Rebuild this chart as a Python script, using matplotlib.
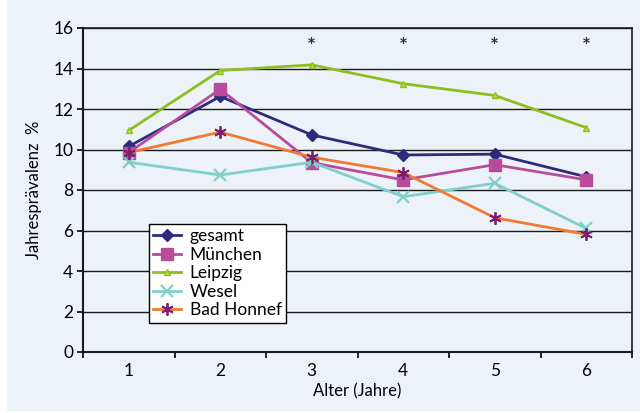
import numpy as np
import matplotlib
matplotlib.use("Agg")
import matplotlib.pyplot as plt
from matplotlib.patches import Rectangle

plt.rcParams['font.family'] = ['Lato', 'DejaVu Sans']

# data
ages = ['1', '2', '3', '4', '5', '6']
gesamt = [10.15, 12.62, 10.72, 9.73, 9.77, 8.65]
muenchen = [9.85, 12.98, 9.35, 8.5, 9.25, 8.5]
leipzig = [10.94, 13.9, 14.18, 13.25, 12.67, 11.08]
wesel = [9.37, 8.74, 9.37, 7.67, 8.33, 6.1]
bad_honnef = [9.85, 10.86, 9.62, 8.86, 6.63, 5.81]
signif_ages = ['3', '4', '5', '6']
signif_y = 15.05

bg = '#edf2f9'

fig = plt.figure(figsize=(6.4, 4.13), dpi=100)
fig.patch.set_facecolor('white')
fig.patches.append(Rectangle((7 / 640, 2 / 413), 1 - 7 / 640, 1 - 2 / 413,
                             transform=fig.transFigure, facecolor=bg,
                             edgecolor='none', zorder=-10))
ax = fig.add_axes([83 / 640, 1 - 352 / 413, 549 / 640, 324 / 413])
ax.set_facecolor(bg)

x = np.arange(len(ages))
ax.plot(x, gesamt, color='#2f2a7c', lw=2.0, marker='D', ms=6.5, label='gesamt')
ax.plot(x, muenchen, color='#b94b9b', lw=2.0, marker='s', ms=8, label='München')
ax.plot(x, leipzig, color='#8cbf20', lw=2.0, marker='^', ms=5,
        mfc='#c8d830', mec='#8cbf20', label='Leipzig')
ax.plot(x, wesel, color='#7fcfca', lw=2.0, marker='x', ms=8, mew=1.6, label='Wesel')
ax.plot(x, bad_honnef, color='#f07a32', lw=2.0, marker=(6, 2, 0), ms=9, mew=1.3,
        mec='#7a1e6e', label='Bad Honnef')

for a in signif_ages:
    ax.text(ages.index(a), signif_y, '*', ha='center', va='center', fontsize=15,
            fontweight='bold', color='#333333')

ax.set_ylim(0, 16)
ax.set_yticks(np.arange(0, 17, 2))
ax.set_xlim(-0.5, len(ages) - 0.5)
ax.set_xticks(np.arange(-0.5, len(ages), 1.0))
ax.set_xticklabels([])
ax.set_xticks(x, minor=True)
ax.set_xticklabels(ages, minor=True)
ax.tick_params(axis='x', which='minor', length=0, pad=8, labelsize=12.5)
ax.tick_params(axis='x', which='major', length=4, width=1.2, direction='out')
ax.tick_params(axis='y', length=4, width=1.2, labelsize=12.5, pad=3)
ax.grid(axis='y', color='#1a1a1a', lw=1.0)
ax.set_axisbelow(True)
for s in ax.spines.values():
    s.set_color('#1a1a1a')
    s.set_linewidth(1.2)
ax.spines['left'].set_linewidth(1.5)
ax.spines['bottom'].set_linewidth(1.5)

ax.set_xlabel('Alter (Jahre)', fontsize=12, labelpad=3)
ax.set_ylabel('Jahresprävalenz  %', fontsize=12, labelpad=8)

leg = ax.legend(loc='lower left', bbox_to_anchor=(0.12, 0.09), borderaxespad=0,
                fontsize=12.5, fancybox=False, framealpha=1, edgecolor='black',
                handlelength=1.6, labelspacing=0.15, borderpad=0.25,
                handletextpad=0.5)
leg.get_frame().set_linewidth(1.0)

fig.savefig('out.png', dpi=100, facecolor=fig.get_facecolor())
